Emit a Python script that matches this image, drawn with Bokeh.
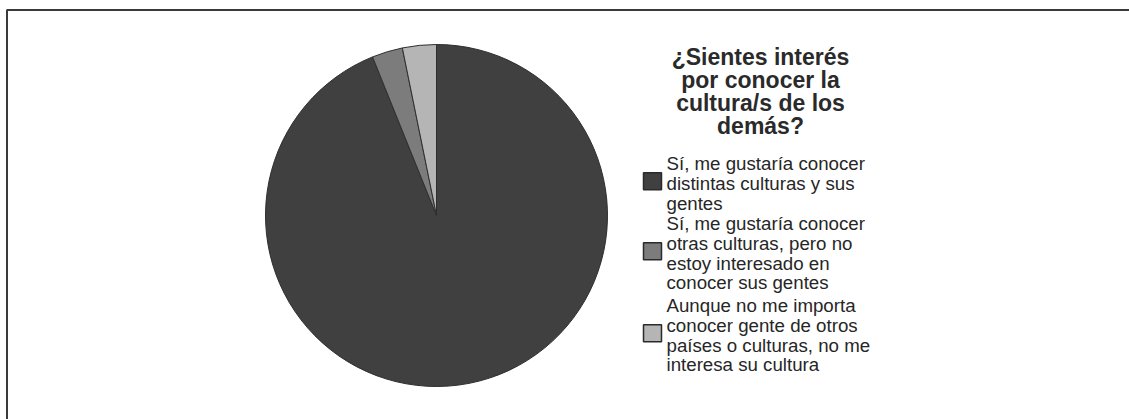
import math
from bokeh.plotting import figure
from bokeh.models import Range1d
from bokeh.core.properties import value
from bokeh.embed import file_html
from bokeh.resources import INLINE

# ---- data ----
title_lines = ["¿Sientes interés", "por conocer la", "cultura/s de los", "demás?"]
categories = [
    ["Sí, me gustaría conocer", "distintas culturas y sus", "gentes"],
    ["Sí, me gustaría conocer", "otras culturas, pero no", "estoy interesado en", "conocer sus gentes"],
    ["Aunque no me importa", "conocer gente de otros", "países o culturas, no me", "interesa su cultura"],
]
shares = [93.9, 2.9, 3.2]
colors = ["#404040", "#7c7c7c", "#b5b5b5"]

W, H = 1129, 419
p = figure(width=W, height=H, output_backend="svg", toolbar_location=None,
           x_range=Range1d(0, W), y_range=Range1d(0, H), min_border=0,
           match_aspect=False)
p.axis.visible = False
p.grid.visible = False
p.outline_line_color = None
p.background_fill_color = "white"
p.border_fill_color = "white"

def Y(y):
    return H - y

# frame (left and top edges visible)
p.line([6.5, 6.5, W + 5], [Y(H + 5), Y(9.5), Y(9.5)], line_color="#3a3a3a", line_width=2)

# pie
cx, cy, r = 436, Y(215), 171
total = sum(shares)
start = math.pi / 2
starts, ends = [], []
a = start
for s in shares:
    starts.append(a)
    a = a - 2 * math.pi * s / total
    ends.append(a)
p.wedge(x=[cx] * len(shares), y=[cy] * len(shares), radius=r,
        start_angle=starts, end_angle=ends, direction="clock",
        fill_color=colors, line_color="#2e2e2e", line_width=1)

# title
tx = 760
for i, t in enumerate(title_lines):
    p.text(x=[tx], y=[Y(56 + i * 23.3)], text=[t], text_align="center",
           text_baseline="middle", text_font=value("Liberation Sans"),
           text_font_style="bold", text_font_size="23px", text_color="#2a2a2a")

# legend
lx, sx = 666, 652
line_h = 19.8
starts_y = [163, 223, 305]
for lines, col, y0 in zip(categories, colors, starts_y):
    for j, t in enumerate(lines):
        p.text(x=[lx], y=[Y(y0 + j * line_h)], text=[t], text_align="left",
               text_baseline="middle", text_font=value("Liberation Sans"),
               text_font_size="18.7px", text_color="#262626")
    mid = y0 + (len(lines) - 1) * line_h / 2 - 2
    p.rect(x=[sx], y=[Y(mid)], width=18, height=17, fill_color=col,
           line_color="#2a2a2a", line_width=1.5)

open("out.html", "w").write(file_html(p, INLINE))
